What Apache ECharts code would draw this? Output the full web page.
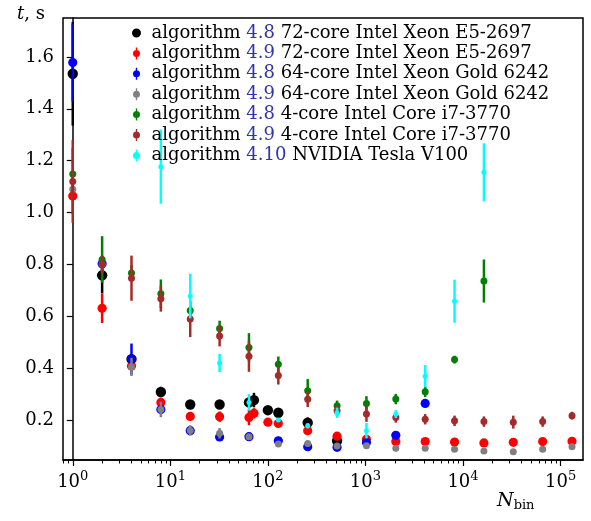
<!DOCTYPE html>
<html>
<head>
<meta charset="utf-8">
<title>ECharts</title>
<script src="https://cdn.jsdelivr.net/npm/echarts@6/dist/echarts.min.js"></script>
<style>html,body{margin:0;padding:0;background:#fff;}</style>
</head>
<body>
<div id="main" style="width:591px;height:521px;"></div>
<script type="text/javascript">
// legend texts
var versions = ['4.8', '4.9', '4.8', '4.9', '4.8', '4.9', '4.10'];
var machines = ['72-core Intel Xeon E5-2697', '72-core Intel Xeon E5-2697',
    '64-core Intel Xeon Gold 6242', '64-core Intel Xeon Gold 6242',
    '4-core Intel Core i7-3770', '4-core Intel Core i7-3770', 'NVIDIA Tesla V100'];
var colors = ['#000000', '#ff0000', '#0000ff', '#808080', '#008000', '#a52a2a', '#00ffff'];
var sizes = [5.2, 4.6, 4.6, 3.5, 3.5, 3.5, 2.5];

var pow2 = [1, 2, 4, 8, 16, 32, 64, 128, 256, 512, 1024, 2048, 4096, 8192, 16384, 32768, 65536, 131072];

// 4.8, 72-core
var blackX = [1, 2, 4, 8, 16, 32, 64, 72, 100, 128, 256, 512];
var blackY = [1.535, 0.758, 0.435, 0.308, 0.26, 0.26, 0.268, 0.277, 0.238, 0.228, 0.19, 0.12];
var blackE = [0.2, 0.07, 0.02, 0.02, 0.015, 0.012, 0.02, 0.028, 0.012, 0.01, 0.02, 0.01];
// 4.9, 72-core
var redX = [1, 2, 4, 8, 16, 32, 64, 72, 100, 128, 256, 512, 1024, 2048, 4096, 8192, 16384, 32768, 65536, 131072];
var redY = [1.064, 0.631, 0.408, 0.268, 0.214, 0.213, 0.21, 0.226, 0.192, 0.187, 0.159, 0.138, 0.126, 0.117, 0.117, 0.115, 0.112, 0.114, 0.117, 0.118];
var redE = [0.07, 0.057, 0.01, 0.012, 0.015, 0.02, 0.03, 0.02, 0.015, 0.01, 0.01, 0.01, 0.008, 0.006, 0.005, 0.005, 0.005, 0.005, 0.005, 0.005];
// 4.8, 64-core
var blueX = [1, 2, 4, 8, 16, 32, 64, 128, 256, 512, 1024, 2048, 4096];
var blueY = [1.578, 0.803, 0.435, 0.241, 0.159, 0.135, 0.136, 0.12, 0.097, 0.095, 0.113, 0.141, 0.264];
var blueE = [0.15, 0.03, 0.06, 0.01, 0.01, 0.008, 0.008, 0.006, 0.006, 0.006, 0.008, 0.008, 0.01];
// 4.9, 64-core
var grayX = pow2;
var grayY = [1.09, 0.80, 0.405, 0.241, 0.16, 0.149, 0.136, 0.108, 0.11, 0.1, 0.101, 0.091, 0.091, 0.087, 0.081, 0.078, 0.087, 0.097];
var grayE = [0.05, 0.03, 0.035, 0.03, 0.02, 0.02, 0.01, 0.01, 0.01, 0.01, 0.008, 0.006, 0.006, 0.006, 0.006, 0.005, 0.005, 0.005];
// 4.8, 4-core
var greenX = pow2.slice(0, 15);
var greenY = [1.149, 0.819, 0.767, 0.687, 0.622, 0.553, 0.48, 0.415, 0.313, 0.255, 0.264, 0.281, 0.309, 0.433, 0.736];
var greenE = [0.1, 0.09, 0.03, 0.055, 0.02, 0.03, 0.055, 0.03, 0.045, 0.02, 0.028, 0.02, 0.02, 0.015, 0.083];
// 4.9, 4-core
var brownX = pow2;
var brownY = [1.12, 0.799, 0.747, 0.668, 0.59, 0.524, 0.446, 0.372, 0.28, 0.236, 0.223, 0.21, 0.203, 0.197, 0.194, 0.192, 0.194, 0.217];
var brownE = [0.16, 0.035, 0.087, 0.05, 0.07, 0.04, 0.06, 0.035, 0.03, 0.02, 0.03, 0.02, 0.02, 0.02, 0.02, 0.025, 0.02, 0.015];
// 4.10, V100
var cyanX = [8, 16, 32, 64, 128, 256, 512, 1024, 2048, 4096, 8192, 16384];
var cyanY = [1.177, 0.678, 0.42, 0.268, 0.2, 0.178, 0.228, 0.159, 0.223, 0.369, 0.658, 1.155];
var cyanE = [0.143, 0.086, 0.035, 0.032, 0.005, 0.01, 0.02, 0.03, 0.015, 0.043, 0.083, 0.112];

var yTicks = [0.2, 0.4, 0.6, 0.8, 1.0, 1.2, 1.4, 1.6];
var xTicks = [0, 1, 2, 3, 4, 5]; // powers of ten

var allX = [blackX, redX, blueX, grayX, greenX, brownX, cyanX];
var allY = [blackY, redY, blueY, grayY, greenY, brownY, cyanY];
var allE = [blackE, redE, blueE, grayE, greenE, brownE, cyanE];

var names = versions.map(function (v, i) { return 'algorithm ' + v + ' ' + machines[i]; });

var minorTicks = [];
for (var k = -1; k < 6; k++) {
    for (var m = 2; m < 10; m++) {
        var v = k + Math.log10(m);
        if (v > -0.1 && v < 5.23) minorTicks.push(v);
    }
}

var serif = 'DejaVu Serif';

function makeRender(i) {
    return function (params, api) {
        var x = api.value(0), y = api.value(1), e = api.value(2);
        var c = api.coord([x, y]);
        var t = api.coord([x, y + e]);
        var b = api.coord([x, y - e]);
        return {
            type: 'group',
            children: [{
                type: 'line',
                shape: { x1: c[0], y1: t[1], x2: c[0], y2: b[1] },
                style: { stroke: colors[i], lineWidth: 2.5 }
            }, {
                type: 'circle',
                shape: { cx: c[0], cy: c[1], r: sizes[i] },
                style: { fill: colors[i] }
            }]
        };
    };
}

var series = names.map(function (name, i) {
    return {
        type: 'custom',
        name: name,
        xAxisIndex: 0,
        itemStyle: { color: colors[i] },
        renderItem: makeRender(i),
        clip: true,
        data: allX[i].map(function (x, j) {
            return [Math.log10(x), allY[i][j], allE[i][j]];
        })
    };
});

var barIcon = 'path://M4.3,0L5.7,0L5.7,12L4.3,12Z M5,2.5A3.5,3.5,0,1,1,5,9.5A3.5,3.5,0,1,1,5,2.5Z';
// tiny specks at top/bottom keep the dot at 9px inside a 12px box
var dotIcon = 'path://M5,0L5.01,0L5,0.01Z M5,12L5.01,12L5,11.99Z M5,1.5A4.5,4.5,0,1,1,5,10.5A4.5,4.5,0,1,1,5,1.5Z';

var myChart = echarts.init(document.getElementById('main'), null, { renderer: 'canvas' });

var option = {
    animation: false,
    backgroundColor: '#fff',
    grid: {
        left: 63, right: 8, top: 18, bottom: 61,
        show: true, borderColor: '#000', borderWidth: 1.5, backgroundColor: 'transparent'
    },
    legend: {
        orient: 'vertical',
        left: 127, top: 19,
        itemWidth: 20, itemHeight: 12,
        itemGap: 2.4,
        data: names.map(function (n, i) { return { name: n, icon: i === 0 ? dotIcon : barIcon }; }),
        formatter: function (name) {
            var i = names.indexOf(name);
            return 'algorithm {v|' + versions[i] + '} ' + machines[i];
        },
        textStyle: {
            fontFamily: serif, fontSize: 18, color: '#000', lineHeight: 18,
            rich: { v: { fontFamily: serif, fontSize: 18, color: '#3333aa', lineHeight: 18 } }
        }
    },
    xAxis: [{
        type: 'value',
        min: -0.1, max: 5.23,
        axisLine: { lineStyle: { color: '#000', width: 1.5 } },
        splitLine: { show: false },
        axisTick: { customValues: xTicks, length: 6, lineStyle: { color: '#000', width: 1.2 } },
        axisLabel: {
            customValues: xTicks,
            margin: 10,
            formatter: function (v) { return '{a|10}{s|' + v + '}'; },
            rich: {
                a: { fontFamily: serif, fontSize: 18, color: '#000' },
                s: { fontFamily: serif, fontSize: 13, color: '#000', verticalAlign: 'top', padding: [0, 0, 12, 0] }
            }
        }
    }, {
        type: 'value',
        min: -0.1, max: 5.23,
        position: 'bottom',
        axisLine: { show: false },
        splitLine: { show: false },
        axisLabel: { show: false },
        axisTick: { customValues: minorTicks, length: 3.5, lineStyle: { color: '#000', width: 1 } }
    }],
    yAxis: {
        type: 'value',
        min: 0.046, max: 1.75,
        axisLine: { show: true, lineStyle: { color: '#000', width: 1.5 } },
        splitLine: { show: false },
        axisTick: { show: true, customValues: yTicks, length: 6, lineStyle: { color: '#000', width: 1.2 } },
        axisLabel: {
            customValues: yTicks,
            margin: 9,
            fontFamily: serif, fontSize: 18, color: '#000',
            formatter: function (v) { return v.toFixed(1); }
        }
    },
    graphic: [{
        type: 'text', left: 17, top: 5,
        style: {
            text: '{i|t}, s',
            fontFamily: serif, fontSize: 18, fill: '#000',
            rich: { i: { fontFamily: serif, fontStyle: 'italic', fontSize: 18 } }
        }
    }, {
        type: 'text', left: 497, top: 492,
        style: {
            text: '{i|N}{b|bin}',
            fontFamily: serif, fontSize: 19, fill: '#000',
            rich: {
                i: { fontFamily: serif, fontStyle: 'italic', fontSize: 19 },
                b: { fontFamily: serif, fontSize: 13, verticalAlign: 'bottom', padding: [9, 0, 0, 0] }
            }
        }
    }],
    series: series
};

myChart.setOption(option);
</script>
</body>
</html>
